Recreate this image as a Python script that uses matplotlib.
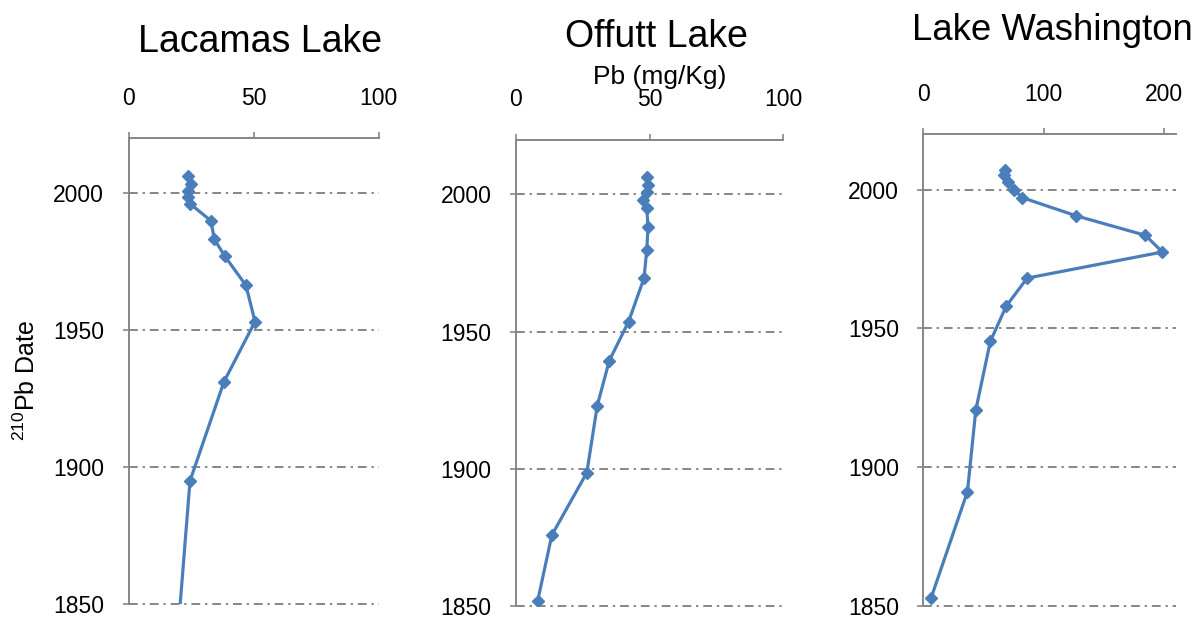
import matplotlib
matplotlib.use("Agg")
import matplotlib.pyplot as plt

plt.rcParams['font.family'] = ['Liberation Sans', 'DejaVu Sans']

# Pb concentration (mg/Kg) against 210Pb date for each core
lacamas_pb = [23.9, 24.9, 23.7, 23.7, 24.6, 33.0, 34.3, 38.6, 47.0, 50.6, 38.2, 24.6, 19.8]
lacamas_yr = [2006.2, 2003.2, 2000.5, 1998.6, 1996.0, 1989.8, 1983.1, 1976.8, 1966.2, 1953.0, 1931.1, 1894.9, 1840.0]

offutt_pb = [48.9, 49.2, 49.1, 47.4, 48.9, 49.4, 48.9, 47.9, 42.1, 34.9, 30.4, 26.5, 13.4, 8.1]
offutt_yr = [2006.3, 2003.5, 2000.8, 1998.1, 1995.1, 1988.1, 1979.6, 1969.5, 1953.6, 1939.4, 1923.0, 1898.6, 1875.8, 1851.8]

wash_pb = [67.8, 66.7, 70.6, 75.5, 82.1, 127.3, 184.6, 198.7, 86.3, 68.9, 55.7, 43.6, 36.7, 6.4]
wash_yr = [2007.2, 2005.2, 2002.7, 2000.0, 1997.1, 1990.5, 1983.5, 1977.5, 1968.1, 1958.0, 1945.3, 1920.5, 1891.2, 1852.8]

year_ticks = [1850, 1900, 1950, 2000]

W, H = 1202, 618
fig = plt.figure(figsize=(W / 100, H / 100), dpi=100)

blue = '#4a7ebb'
gray = '#868686'


def px_axes(left, right, top, bottom):
    return fig.add_axes([left / W, 1 - bottom / H, (right - left) / W, (bottom - top) / H])


def setup(ax, pb, yr, xmax, xticks):
    ax.plot(pb, yr, color=blue, lw=2.3, marker='D', ms=6, zorder=3)
    ax.set_xlim(0, xmax)
    ax.set_ylim(1850, 2020)
    ax.set_xticks(xticks)
    ax.set_yticks(year_ticks)
    ax.xaxis.tick_top()
    for s in ['right', 'bottom']:
        ax.spines[s].set_visible(False)
    for s in ['left', 'top']:
        ax.spines[s].set_color(gray)
        ax.spines[s].set_linewidth(1.4)
    ax.tick_params(axis='x', top=True, bottom=False, direction='out', length=4.5,
                   width=1.2, color=gray, labelsize=16.5, pad=16)
    ax.tick_params(axis='y', direction='out', length=4.5, width=1.2, color=gray,
                   labelsize=16.5, pad=13)
    ax.grid(axis='y', color=gray, lw=1.4, ls=(0, (4.5, 2.5, 1.2, 2.5)))
    for gl in ax.get_ygridlines():
        gl.set_clip_on(False)
    ax.set_facecolor('none')


ax1 = px_axes(128.5, 378.5, 138, 604)
setup(ax1, lacamas_pb, lacamas_yr, 100, [0, 50, 100])

ax2 = px_axes(516, 783.3, 139.5, 606)
setup(ax2, offutt_pb, offutt_yr, 100, [0, 50, 100])

ax3 = px_axes(923.3, 1176, 134, 606)
setup(ax3, wash_pb, wash_yr, 210, [0, 100, 200])

fig.text(259.5 / W, 1 - 51.7 / H, 'Lacamas Lake', fontsize=27, ha='center', va='baseline')
fig.text(656.7 / W, 1 - 46.7 / H, 'Offutt Lake', fontsize=27, ha='center', va='baseline')
fig.text(1052 / W, 1 - 40 / H, 'Lake Washington', fontsize=26.3, ha='center', va='baseline')
fig.text(660 / W, 1 - 84 / H, 'Pb (mg/Kg)', fontsize=19, ha='center', va='baseline')
fig.text(27 / W, 1 - 380 / H, r'$\mathregular{^{210}}$Pb Date', fontsize=18,
         rotation=90, ha='center', va='center')

fig.savefig('out.png', dpi=100)
